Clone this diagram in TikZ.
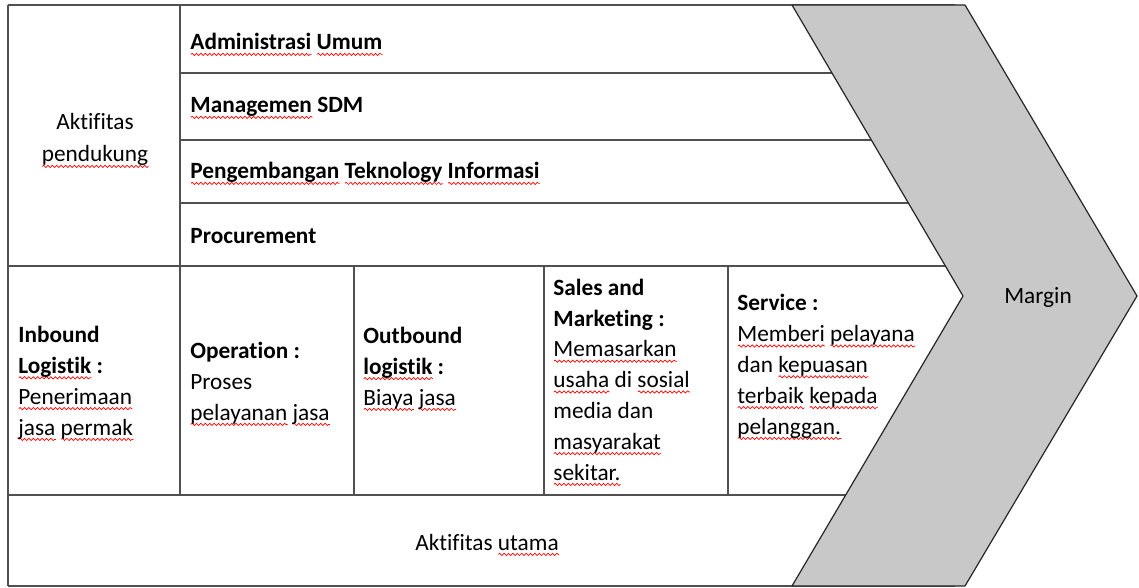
\documentclass[tikz,border=0pt]{standalone}
\usepackage{fontspec}
\setmainfont[Ligatures=NoCommon]{Carlito}
\usetikzlibrary{decorations.pathmorphing}

\definecolor{chevgray}{HTML}{C8C8C8}
\definecolor{rulegray}{HTML}{505050}
\newsavebox\spellbox
\newcommand\spell[1]{\sbox\spellbox{#1}\leavevmode\rlap{\tikz[baseline=0pt]\draw[red, line width=0.35pt, decorate, decoration={snake, amplitude=0.55pt, segment length=2.2pt}] (0pt,-2.2pt) -- (\wd\spellbox,-2.2pt);}#1}

\begin{document}
\begin{tikzpicture}[x = 0.5pt, y = -0.5pt,
  tablerule/.style = {draw = rulegray, line width = 0.75pt},
  chevron/.style = {fill = chevgray, draw = black!85, line width = 0.6pt, line join = bevel},
  cell/.style = {anchor = base west, align = left, inner sep = 0pt, font = \fontsize{11.65}{15.4}\selectfont},
  caption/.style = {anchor = base, align = center, inner sep = 0pt, font = \fontsize{11.65}{16}\selectfont}]
\useasboundingbox (0,0) rectangle (1139,588);
% table
\draw[tablerule] (8,5) -- (955,5);
\foreach \y in {73,140,203} \draw[tablerule] (180,\y) -- (955,\y);
\draw[tablerule] (8,266) -- (955,266);
\draw[tablerule] (8,495) -- (955,495);
\draw[tablerule] (8,586) -- (955,586);
\draw[tablerule] (8,5) -- (8,586);
\draw[tablerule] (180,5) -- (180,495);
\foreach \x in {354,544,728} \draw[tablerule] (\x,266) -- (\x,495);
% margin chevron
\coordinate (tl) at (792,5);
\coordinate (tr) at (965,5);
\coordinate (tip) at (1137,296);
\coordinate (br) at (965,586);
\coordinate (bl) at (792,586);
\coordinate (notch) at (963,296);
\draw[chevron] (tl) -- (tr) -- (tip) -- (br) -- (bl) -- (notch) -- cycle;
\node[caption] (margin) at (1038,303) {Margin};
% support activities (base = last line)
\node[caption] (pendukung) at (95,162) {Aktifitas\\\spell{pendukung}};
\node[cell] (admin) at (190,50) {\textbf{\spell{Administrasi} \spell{Umum}}};
\node[cell] (sdm) at (190,113) {\textbf{\spell{Managemen} SDM}};
\node[cell] (teknologi) at (190,179) {\textbf{\spell{Pengembangan} \spell{Teknology} \spell{Informasi}}};
\node[cell] (procurement) at (190,243) {\textbf{Procurement}};
% primary activities
\node[cell] (inbound) at (18,435) {\textbf{Inbound}\\\textbf{\spell{Logistik} :}\\\spell{Penerimaan}\\\spell{jasa} \spell{permak}};
\node[cell] (operation) at (190,420) {\textbf{Operation :}\\Proses\\\spell{pelayanan} \spell{jasa}};
\node[cell] (outbound) at (363,405) {\textbf{Outbound}\\\textbf{\spell{logistik} :}\\\spell{Biaya} \spell{jasa}};
\node[cell] (sales) at (553,480) {\textbf{Sales and}\\\textbf{Marketing :}\\\spell{Memasarkan}\\\spell{usaha} di \spell{sosial}\\media dan\\\spell{masyarakat}\\\spell{sekitar.}};
\node[cell] (service) at (737,434) {\textbf{Service :}\\\spell{Memberi} \spell{pelayana}\\dan \spell{kepuasan}\\\spell{terbaik} \spell{kepada}\\\spell{pelanggan.}};
\node[caption] (utama) at (487,550) {Aktifitas \spell{utama}};
\end{tikzpicture}
\end{document}
